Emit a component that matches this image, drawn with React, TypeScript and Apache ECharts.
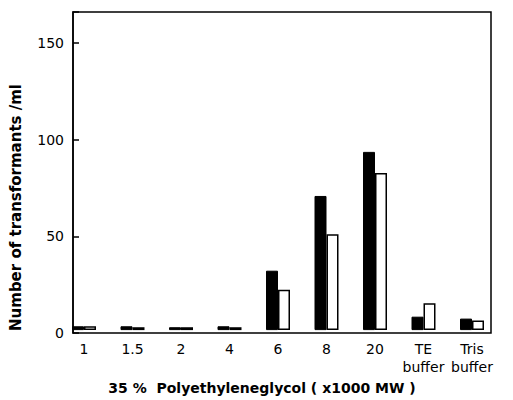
import React, { useEffect, useRef } from "react";
import * as echarts from "echarts";

const categories = ["1", "1.5", "2", "4", "6", "8", "20", "TE\nbuffer", "Tris\nbuffer"];
const blackValues = [2, 2, 1.5, 2, 31, 70, 93, 7, 6];
const whiteValues = [2, 1.5, 1.5, 1.5, 21, 50, 82, 14, 5];
const yTicks = [0, 50, 100, 150];
const yName = "Number of transformants /ml";
const xName = "35 %  Polyethyleneglycol ( x1000 MW )";

const FONT = "'DejaVu Sans', sans-serif";

export default function App() {
  const ref = useRef<HTMLDivElement>(null);
  useEffect(() => {
    if (!ref.current) return;
    const chart = echarts.init(ref.current, undefined, { renderer: "svg" });
    chart.setOption({
      animation: false,
      backgroundColor: "#fff",
      grid: [
        { left: 70, right: 22, top: 12, bottom: 67, show: true, borderColor: "#000", borderWidth: 1.5, backgroundColor: "transparent" },
        { left: 84, right: 41, top: 12, bottom: 67 },
      ],
      xAxis: [
        {
          type: "value", gridIndex: 0, min: 0, max: 1,
          axisLine: { show: false }, axisTick: { show: false }, axisLabel: { show: false }, splitLine: { show: false },
        },
        {
          type: "category", gridIndex: 1, data: categories, boundaryGap: false,
          axisLine: { show: false }, axisTick: { show: false }, splitLine: { show: false },
          axisLabel: { color: "#000", fontFamily: FONT, fontSize: 14, margin: 10, lineHeight: 18, interval: 0 },
          name: xName, nameLocation: "middle", nameGap: 49,
          nameTextStyle: { color: "#000", fontFamily: FONT, fontSize: 14, fontWeight: "bold", padding: [0, 32, 0, 0] },
        },
      ],
      yAxis: [
        {
          type: "value", gridIndex: 0, min: 0, max: 166, interval: 50,
          axisLine: { show: true, lineStyle: { color: "#000", width: 1.5 } },
          axisTick: { show: true, inside: true, length: 6, lineStyle: { color: "#000", width: 1.5 } },
          axisLabel: {
            color: "#000", fontFamily: FONT, fontSize: 14, margin: 9,
            customValues: yTicks,
          },
          splitLine: { show: false },
          name: yName, nameLocation: "middle", nameGap: 50,
          nameTextStyle: { color: "#000", fontFamily: FONT, fontSize: 15, fontWeight: "bold", padding: [0, 70, 0, 0] },
        },
        {
          type: "value", gridIndex: 1, min: 0, max: 166, show: false, splitLine: { show: false },
        },
      ],
      series: [
        {
          type: "bar", xAxisIndex: 1, yAxisIndex: 1, data: blackValues, barWidth: 12, barGap: "0%", clip: false,
          itemStyle: { color: "#000", borderColor: "#000", borderWidth: 1 },
        },
        {
          type: "bar", xAxisIndex: 1, yAxisIndex: 1, data: whiteValues, barWidth: 12, barGap: "0%", clip: false,
          itemStyle: { color: "#fff", borderColor: "#000", borderWidth: 1.5 },
        },
      ],
    });
    return () => chart.dispose();
  }, []);
  return <div ref={ref} style={{ width: 513, height: 400, position: "absolute", left: 0, top: 0 }} />;
}
